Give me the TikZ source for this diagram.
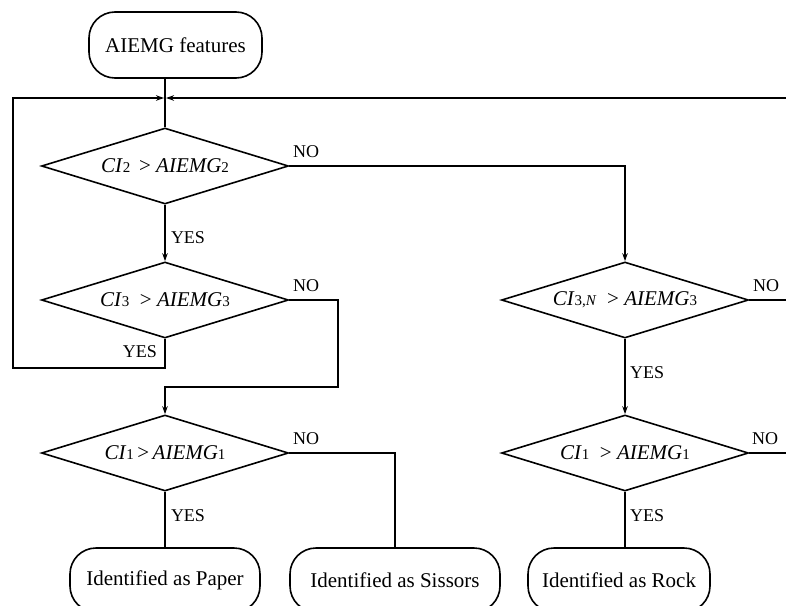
\documentclass[tikz,border=0pt]{standalone}
\usepackage{fontspec}
\setmainfont{Liberation Serif}
\usetikzlibrary{shapes.geometric,arrows.meta}

% index digits set a little smaller, on the baseline
\newcommand{\ix}[1]{{\fontsize{15}{15}\selectfont #1}}

\begin{document}
\begin{tikzpicture}[x=1pt,y=-1pt,
  line width=2pt,
  every node/.style={font=\fontsize{21}{24}\selectfont},
  terminal/.style={draw, line width=1.6pt, rounded corners=26pt, minimum height=66pt, inner sep=0pt},
  decision/.style={draw, line width=1.6pt, diamond, aspect=3.25, inner sep=0pt,
                   minimum width=247pt, minimum height=76pt},
  lbl/.style={font=\fontsize{18}{20}\selectfont, inner sep=0pt},
  flow/.style={-{Stealth[length=8pt,width=5.5pt]}},
]
\useasboundingbox (0,0) rectangle (786,605);
\clip (0,0) rectangle (786,605);

% terminals
\node[terminal, minimum width=173pt] (start) at (175.5,45) {AIEMG features};
\node[terminal, minimum width=190pt, minimum height=64pt] (paper) at (165,580) {Identified as Paper};
\node[terminal, minimum width=210pt, minimum height=64pt] (sissors) at (395,580) {Identified as Sissors};
\node[terminal, minimum width=182pt, minimum height=64pt] (rock) at (619,580) {Identified as Rock};

% decisions
\node[decision] (d1) at (165,166) {\textit{CI}\ix{2}\, > \textit{AIEMG}\ix{2}};
\node[decision] (d2) at (165,300) {\textit{CI}\ix{3}\ \ > \textit{AIEMG}\ix{3}};
\node[decision] (d3) at (165,453) {\textit{CI}\ix{1}\,>\,\textit{AIEMG}\ix{1}};
\node[decision] (d4) at (625,300) {\textit{CI}\ix{3,\textit{N}}\ \ > \textit{AIEMG}\ix{3}};
\node[decision] (d5) at (625,453) {\textit{CI}\ix{1}\ \ > \textit{AIEMG}\ix{1}};

% rails and junction
\coordinate (merge) at (165,98);
\coordinate (leftrail) at (13,98);
\coordinate (rightrail) at (786,98);

% connectors
\draw (start.south -| d1.north) -- (d1.north);
\draw[flow, shorten >=1pt] (d2.south) -- ++(0,29) -| (leftrail) -- (merge);
\draw[flow, shorten >=1pt] (rightrail) -- (merge);
\draw[flow] (d1.south) -- (d2.north);
\draw[flow] (d1.east) -| (d4.north);
\draw[flow] (d2.east) -- (338,300) -- (338,387) -| (d3.north);
\draw (d3.south) -- (d3.south |- paper.north);
\draw (d3.east) -| (sissors.north);
\draw[flow] (d4.south) -- (d5.north);
\draw (d4.east) -- (d4.east -| rightrail);
\draw (d5.east) -- (d5.east -| rightrail);
\draw (d5.south) -- (d5.south |- rock.north);

% branch labels
\node[lbl, anchor=west] (no1) at (292,152) {NO};
\node[lbl, anchor=west] (yes1) at (170,238) {YES};
\node[lbl, anchor=west] (no2) at (292,286) {NO};
\node[lbl, anchor=east] (yes2) at (158,352) {YES};
\node[lbl, anchor=west] (no3) at (292,439) {NO};
\node[lbl, anchor=west] (yes3) at (170,516) {YES};
\node[lbl, anchor=west] (no4) at (752,286) {NO};
\node[lbl, anchor=west] (yes4) at (629,373) {YES};
\node[lbl, anchor=west] (no5) at (751,439) {NO};
\node[lbl, anchor=west] (yes5) at (629,516) {YES};
\end{tikzpicture}
\end{document}
